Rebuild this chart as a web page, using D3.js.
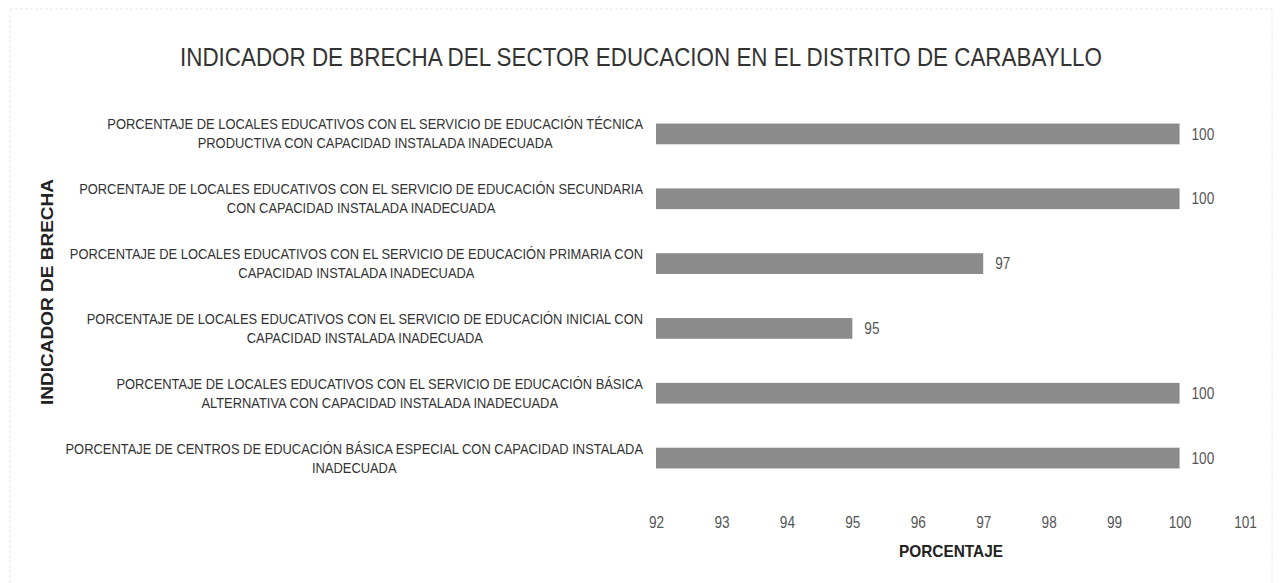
<!DOCTYPE html>
<html>
<head>
<meta charset="utf-8">
<script src="https://d3js.org/d3.v7.min.js"></script>
<style>
  body { margin: 0; background: #fff; }
  text { font-family: "Liberation Sans", Arial, sans-serif; }
</style>
</head>
<body>
<script>
// Set Dimensions
const width  = 1285;
const height = 583;
const squeeze = 0.85;     // narrow (Calibri-like) look for numbers
const labelSqueeze = 0.89;

// Data
const title = "INDICADOR DE BRECHA DEL SECTOR EDUCACION EN EL DISTRITO DE CARABAYLLO";
const categories = [
  ["PORCENTAJE DE LOCALES EDUCATIVOS CON EL SERVICIO DE EDUCACIÓN TÉCNICA", "PRODUCTIVA CON CAPACIDAD INSTALADA INADECUADA"],
  ["PORCENTAJE DE LOCALES EDUCATIVOS CON EL SERVICIO DE EDUCACIÓN SECUNDARIA", "CON CAPACIDAD INSTALADA INADECUADA"],
  ["PORCENTAJE DE LOCALES EDUCATIVOS CON EL SERVICIO DE EDUCACIÓN PRIMARIA CON", "CAPACIDAD INSTALADA INADECUADA"],
  ["PORCENTAJE DE LOCALES EDUCATIVOS CON EL SERVICIO DE EDUCACIÓN INICIAL CON", "CAPACIDAD INSTALADA INADECUADA"],
  ["PORCENTAJE DE LOCALES EDUCATIVOS CON EL SERVICIO DE EDUCACIÓN BÁSICA", "ALTERNATIVA CON CAPACIDAD INSTALADA INADECUADA"],
  ["PORCENTAJE DE CENTROS DE EDUCACIÓN BÁSICA ESPECIAL CON CAPACIDAD INSTALADA", "INADECUADA"]
];
const values = [100, 100, 97, 95, 100, 100];
const xTicks = [92, 93, 94, 95, 96, 97, 98, 99, 100, 101];
const xTitle = "PORCENTAJE";
const yTitle = "INDICADOR DE BRECHA";

const svg = d3.select("body").append("svg")
  .attr("width", width)
  .attr("height", height);

// squeeze a text horizontally
function narrow(sel, f) {
  sel.each(function() {
    const w = this.getComputedTextLength();
    d3.select(this).attr("textLength", w * f).attr("lengthAdjust", "spacingAndGlyphs");
  });
}

// faint scanned frame
svg.append("rect")
  .attr("x", 10).attr("y", 9)
  .attr("width", 1262).attr("height", 600)
  .attr("fill", "none")
  .attr("stroke", "#e6e6e6")
  .attr("stroke-dasharray", "3,2");

// scales
const x = d3.scaleLinear().domain([92, 101]).range([656, 1245]);
const y = d3.scaleBand()
  .domain(d3.range(categories.length))
  .range([101.5, 490.5])
  .paddingInner(0.68)
  .paddingOuter(0.34);

// title
svg.append("text")
  .attr("x", 641).attr("y", 66)
  .attr("text-anchor", "middle")
  .attr("font-size", 26)
  .attr("fill", "#333")
  .attr("textLength", 922)
  .attr("lengthAdjust", "spacingAndGlyphs")
  .text(title);

// bars
svg.append("g").selectAll("rect")
  .data(values)
  .join("rect")
  .attr("x", x(92))
  .attr("y", (d, i) => y(i))
  .attr("width", d => x(d) - x(92))
  .attr("height", y.bandwidth())
  .attr("fill", "#8b8b8b");

// value labels
svg.append("g").selectAll("text")
  .data(values)
  .join("text")
  .attr("x", d => x(d) + 12)
  .attr("y", (d, i) => y(i) + y.bandwidth() / 2)
  .attr("dy", "0.35em")
  .attr("font-size", 16)
  .attr("fill", "#555")
  .text(d => d)
  .call(narrow, squeeze);

// category labels (two lines, centered block, right aligned)
const labelRight = 643;
const lab = svg.append("g");
categories.forEach((lines, i) => {
  const g = lab.append("g");
  const cy = y(i) + y.bandwidth() / 2;
  const ts = lines.map((t, k) => g.append("text")
    .attr("y", cy + (k - 0.5) * 19)
    .attr("dy", "0.35em")
    .attr("font-size", 14.5)
    .attr("fill", "#333")
    .attr("text-anchor", "middle")
    .text(t)
    .call(narrow, labelSqueeze));
  const maxW = d3.max(ts, t => +t.attr("textLength"));
  ts.forEach(t => t.attr("x", labelRight - maxW / 2));
});

// x axis tick labels
const xAxis = svg.append("g")
  .attr("transform", "translate(0,522)")
  .call(d3.axisBottom(x).tickValues(xTicks).tickSize(0).tickPadding(0));
xAxis.select(".domain").remove();
xAxis.selectAll("text")
  .attr("dy", "0.35em")
  .attr("font-size", 16)
  .attr("fill", "#555")
  .style("font-family", "\"Liberation Sans\", Arial, sans-serif")
  .call(narrow, squeeze);

// axis titles
svg.append("text")
  .attr("x", 951).attr("y", 551)
  .attr("dy", "0.35em")
  .attr("text-anchor", "middle")
  .attr("font-size", 17)
  .attr("font-weight", "bold")
  .attr("fill", "#222")
  .attr("textLength", 104)
  .attr("lengthAdjust", "spacingAndGlyphs")
  .text(xTitle);

svg.append("text")
  .attr("transform", "translate(47,292) rotate(-90)")
  .attr("dy", "0.35em")
  .attr("text-anchor", "middle")
  .attr("font-size", 17)
  .attr("font-weight", "bold")
  .attr("fill", "#222")
  .attr("textLength", 226)
  .attr("lengthAdjust", "spacingAndGlyphs")
  .text(yTitle);
</script>
</body>
</html>
